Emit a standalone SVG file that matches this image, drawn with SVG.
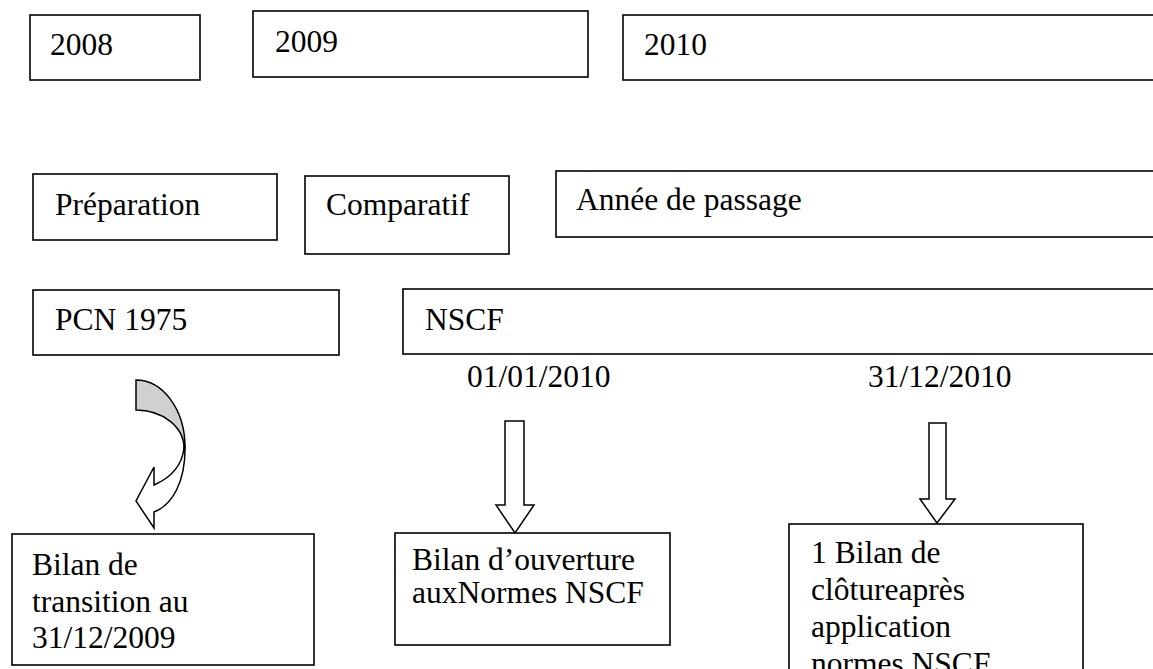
<svg xmlns="http://www.w3.org/2000/svg" width="1153" height="669" viewBox="0 0 1153 669">
<style>
.box{fill:#fff;stroke:#000;stroke-width:1.6}
.t{font-family:"Liberation Serif","Times New Roman",serif;font-size:31.5px;fill:#000}
.arr{fill:#fff;stroke:#000;stroke-width:1.5;stroke-linejoin:miter}
</style>
<rect width="1153" height="669" fill="#fff"/>
<g id="n2008"><rect class="box" x="30" y="15" width="170" height="65"/><text class="t" x="50" y="55">2008</text></g>
<g id="n2009"><rect class="box" x="253" y="11" width="335" height="66"/><text class="t" x="275" y="52">2009</text></g>
<g id="n2010"><rect class="box" x="623" y="15" width="560" height="65"/><text class="t" x="644" y="55">2010</text></g>
<g id="prep"><rect class="box" x="33" y="174" width="244" height="66"/><text class="t" x="55" y="215">Préparation</text></g>
<g id="comp"><rect class="box" x="305" y="176" width="204" height="78"/><text class="t" x="326" y="215">Comparatif</text></g>
<g id="annee"><rect class="box" x="556" y="171" width="627" height="66"/><text class="t" x="576" y="210">Année de passage</text></g>
<g id="pcn"><rect class="box" x="33" y="290" width="306" height="65"/><text class="t" x="55" y="330">PCN 1975</text></g>
<g id="nscf"><rect class="box" x="403" y="289" width="780" height="65"/><text class="t" x="425" y="330">NSCF</text></g>
<g id="d1"><text class="t" x="467" y="387">01/01/2010</text></g>
<g id="d2"><text class="t" x="868" y="387">31/12/2010</text></g>
<g id="transition"><rect class="box" x="12" y="534" width="302" height="131"/><text class="t"><tspan x="32" y="575">Bilan de</tspan><tspan x="32" y="612">transition au</tspan><tspan x="32" y="648">31/12/2009</tspan></text></g>
<g id="ouverture"><rect class="box" x="395" y="533" width="275" height="112"/><text class="t"><tspan x="412" y="570">Bilan d’ouverture</tspan><tspan x="412" y="603">auxNormes NSCF</tspan></text></g>
<g id="cloture"><rect class="box" x="789" y="524" width="294" height="180"/><text class="t"><tspan x="811" y="563">1 Bilan de</tspan><tspan x="811" y="600">clôtureaprès</tspan><tspan x="811" y="637">application</tspan><tspan x="811" y="674">normes NSCF</tspan></text></g>
<g id="connectors">
<path d="M136,380 A49,67 0 0 1 185,447 L184,448 A48,38 0 0 0 136,410 Z" fill="#d0d0d0" stroke="#000" stroke-width="1.5"/>
<path class="arr" d="M185,445 C186,482 172,505 154,512 L154,528 L136,501 L154,467 L154,485 C170,478 182,466 184,448 Z"/>
<path class="arr" d="M505,421 L524,421 L524,505 L534,505 L515,533 L496,505 L505,505 Z"/>
<path class="arr" d="M929,423 L946,423 L946,499 L955,499 L937,523 L920,499 L929,499 Z"/>
</g>
</svg>
